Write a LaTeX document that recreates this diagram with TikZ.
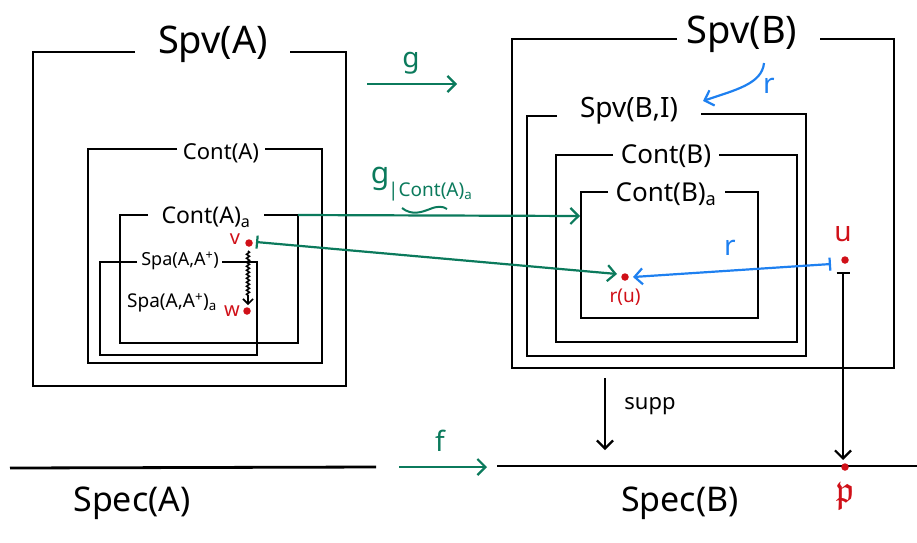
\documentclass[tikz,border=0pt]{standalone}
\usepackage{fontspec}
\setmainfont{Noto Sans}
\usepackage{amssymb}
\usetikzlibrary{arrows.meta,decorations.pathmorphing}
\definecolor{mgreen}{HTML}{0B7A5C}
\definecolor{mblue}{HTML}{1E80F0}
\definecolor{mred}{HTML}{D01018}
\newcommand{\fs}[1]{\fontsize{#1}{#1}\selectfont}
\begin{document}
\begin{tikzpicture}[x=1pt,y=-1pt,
  bx/.style={line width=2.8pt,black,line join=miter},
  lab/.style={inner sep=1pt,black},
  tip/.style={-{Straight Barb[length=8pt,width=16pt,line width=2.2pt]},line width=2.2pt},
  mto/.style={{Bar[width=13pt,line width=2.2pt]}-{Straight Barb[length=8pt,width=16pt,line width=2.2pt]},line width=2.2pt},
  dot/.style={circle,fill=mred,inner sep=0pt,minimum size=7.5pt},
  rlab/.style={inner sep=1pt,text=mred}]
\useasboundingbox (0,0) rectangle (917,542);

% ---------- left boxes ----------
\node[lab,font=\fs{38}] (lSpvA) at (213,44) {Spv(A)};
\draw[bx] (135,52) -- (33,52) -- (33,386) -- (346,386) -- (346,52) -- (290,52);
\node[lab,font=\fs{22}] (lContA) at (221,153) {Cont(A)};
\draw[bx] (177,149) -- (88,149) -- (88,363) -- (322,363) -- (322,149) -- (265,149);
\node[lab,font=\fs{23}] (lContAa) at (206,217) {Cont(A)\textsubscript{a}};
\draw[bx] (148,215) -- (120,215) -- (120,343) -- (298,343) -- (298,215) -- (264,215);
\node[lab,font=\fs{18}] (lSpaA) at (180,261) {Spa(A,A\textsuperscript{+})};
\draw[bx] (137,262) -- (100,262) -- (100,355) -- (257,355) -- (257,262) -- (222,262);
\node[lab,font=\fs{19}] (lSpaAa) at (172,303) {Spa(A,A\textsuperscript{+})\textsubscript{a}};

% ---------- right boxes ----------
\node[lab,font=\fs{38}] (lSpvB) at (742,34) {Spv(B)};
\draw[bx] (677,39) -- (512,39) -- (512,368) -- (894,368) -- (894,39) -- (820,39);
\node[lab,font=\fs{28}] (lSpvBI) at (629,111) {Spv(B,I)};
\draw[bx] (557,116) -- (527,116) -- (527,356) -- (806,356) -- (806,114) -- (701,114);
\node[lab,font=\fs{26}] (lContB) at (666,156) {Cont(B)};
\draw[bx] (613,155) -- (556,155) -- (556,342) -- (797,342) -- (797,155) -- (719,155);
\node[lab,font=\fs{26}] (lContBa) at (666,194) {Cont(B)\textsubscript{a}};
\draw[bx] (608,192) -- (581,192) -- (581,318) -- (758,318) -- (758,192) -- (725,192);

% ---------- spectra ----------
\coordinate (sA1) at (10,468);
\coordinate (sA2) at (376,467);
\coordinate (sB1) at (497,466);
\coordinate (sB2) at (917,466);
\draw[bx] (sA1) -- (sA2);
\draw[bx] (sB1) -- (sB2);
\node[lab,font=\fs{34}] (lSpecA) at (132,503) {Spec(A)};
\node[lab,font=\fs{34}] (lSpecB) at (680,503) {Spec(B)};

% ---------- points ----------
\node[dot] (v) at (249,243) {};
\node[rlab,font=\bfseries\fs{20}] (lv) at (235,239) {v};
\node[dot] (w) at (247,311) {};
\node[rlab,font=\bfseries\fs{20}] (lw) at (232,311) {w};
\node[dot] (ru) at (625,277) {};
\node[rlab,font=\fs{19}] (lru) at (625,297) {r(u)};
\node[dot] (u) at (845,260) {};
\node[rlab,font=\fs{28}] (lu) at (843,234) {u};
\node[dot] (p) at (845,467) {};
\node[rlab,font=\fs{38}] (lp) at (845,496) {$\mathfrak{p}$};

% ---------- arrows ----------
\coordinate (g1) at (367,84);
\coordinate (g2) at (457,84);
\draw[tip,mgreen] (g1) -- (g2);
\node[lab,text=mgreen,font=\fs{28}] (lg) at (411,63) {g};

\coordinate (f1) at (399,467);
\coordinate (f2) at (487,467);
\draw[tip,mgreen] (f1) -- (f2);
\node[lab,text=mgreen,font=\fs{28}] (lf) at (440,441) {f};

\coordinate (caR) at (298,215);
\coordinate (cbL) at (580,216);
\draw[tip,mgreen] (caR) -- (cbL);
\node[lab,text=mgreen,font=\fs{30}] (lgr) at (380,179) {g};
\node[lab,text=mgreen,font=\fs{19},anchor=west] (lgrs) at (387,192) {|Cont(A)\textsubscript{a}};
\draw[mgreen,line width=2pt] (402,208) .. controls (412,216) and (422,212) .. (430,209) .. controls (437,206) and (443,206) .. (447,209);

\coordinate (vs) at (256,242);
\coordinate (rue) at (617,274);
\draw[mto,mgreen] (vs) -- (rue);

\coordinate (us) at (831,264);
\coordinate (rue2) at (633,277);
\draw[mto,mblue] (us) -- (rue2);
\node[lab,text=mblue,font=\fs{28}] (lr2) at (730,248) {r};

\coordinate (rb1) at (764,63);
\coordinate (rb2) at (703,101);
\draw[tip,mblue] (rb1) .. controls (762,84) and (735,90) .. (rb2);
\node[lab,text=mblue,font=\fs{28}] (lr1) at (769,86) {r};

\coordinate (u1) at (843,272);
\coordinate (u2) at (843,460);
\draw[mto,black] (u1) -- (u2);

\coordinate (s1) at (605,378);
\coordinate (s2) at (605,450);
\draw[tip,black] (s1) -- (s2);
\node[lab,font=\fs{22}] (lsupp) at (650,406) {supp};

\draw[black,line width=1.6pt,decorate,decoration={snake,amplitude=1.4pt,segment length=4pt,post length=8pt},-{Straight Barb[length=5pt,width=10pt,line width=1.6pt]}] (248,251) -- (248,305);
\end{tikzpicture}
\end{document}
